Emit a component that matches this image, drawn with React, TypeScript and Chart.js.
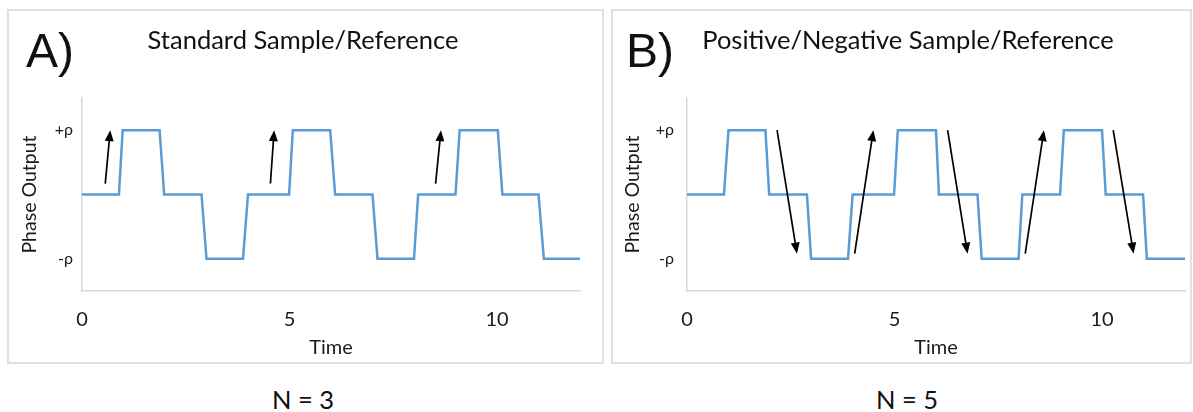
import React, { useEffect, useRef } from "react";
import { Chart, registerables } from "chart.js";

Chart.register(...registerables);

// ---- data ----
const timeA = [0, 0.89, 0.98, 1.87, 1.98, 2.88, 3.0, 3.88, 4.0, 4.99, 5.08, 5.98, 6.1, 7.0, 7.12, 8.0, 8.1, 9.0, 9.1, 10.02, 10.13, 11.0, 11.13, 12];
const valueA = [0, 0, 1, 1, 0, 0, -1, -1, 0, 0, 1, 1, 0, 0, -1, -1, 0, 0, 1, 1, 0, 0, -1, -1];
const timeB = [0, 0.89, 1.0, 1.89, 1.98, 2.89, 2.99, 3.88, 3.99, 4.99, 5.08, 6.0, 6.07, 7.0, 7.1, 7.99, 8.08, 8.99, 9.08, 10.0, 10.09, 10.99, 11.08, 12];
const valueB = [0, 0, 1, 1, 0, 0, -1, -1, 0, 0, 1, 1, 0, 0, -1, -1, 0, 0, 1, 1, 0, 0, -1, -1];
const xTickValues = [0, 5, 10];
const yTickValues = [1, -1];
const yTickLabels = ["+ρ", "-ρ"];
// arrows: [startTime, startValue, endTime, endValue]
const arrowsA = [
  [0.56, 0.17, 0.68, 1.0],
  [4.54, 0.17, 4.63, 1.0],
  [8.52, 0.17, 8.65, 1.0],
];
const arrowsB = [
  [2.17, 1.0, 2.65, -0.92],
  [4.04, -0.92, 4.49, 1.0],
  [6.28, 1.0, 6.76, -0.92],
  [8.15, -0.92, 8.6, 1.0],
  [10.27, 1.0, 10.76, -0.92],
];
const panelLetters = ["A)", "B)"];
const panelTitles = ["Standard Sample/Reference", "Positive/Negative Sample/Reference"];
const panelCounts = ["N = 3", "N = 5"];
const xAxisTitle = "Time";
const yAxisTitle = "Phase Output";

const FONT = "Lato, 'Noto Sans', sans-serif";
const TEXT = "#1a1a1a";

const arrowPlugin = {
  id: "arrows",
  afterDatasetsDraw(chart: any, _args: any, opts: any) {
    const { ctx, scales } = chart;
    const xs = scales.x;
    const ys = scales.y;
    ctx.save();
    ctx.strokeStyle = "#000";
    ctx.fillStyle = "#000";
    ctx.lineWidth = 1.7;
    for (const [t0, v0, t1, v1] of opts.list || []) {
      const x0 = xs.getPixelForValue(t0);
      const y0 = ys.getPixelForValue(v0);
      const x1 = xs.getPixelForValue(t1);
      const y1 = ys.getPixelForValue(v1);
      const ang = Math.atan2(y1 - y0, x1 - x0);
      const headLen = 11;
      const headW = 4.5;
      const c = Math.cos(ang);
      const s = Math.sin(ang);
      const bx = x1 - headLen * c;
      const by = y1 - headLen * s;
      ctx.beginPath();
      ctx.moveTo(x0, y0);
      ctx.lineTo(bx + 2 * c, by + 2 * s);
      ctx.stroke();
      ctx.beginPath();
      ctx.moveTo(x1, y1);
      ctx.lineTo(bx - headW * s, by + headW * c);
      ctx.lineTo(bx + headW * s, by - headW * c);
      ctx.closePath();
      ctx.fill();
    }
    ctx.restore();
  },
};

type PanelProps = {
  left: number;
  top: number;
  width: number;
  height: number;
  time: number[];
  value: number[];
  arrows: number[][];
  yAxisWidth: number;
  rightPad: number;
  yTickPad: number;
};

function PanelChart(p: PanelProps) {
  const ref = useRef<HTMLCanvasElement | null>(null);
  useEffect(() => {
    if (!ref.current) return;
    const chart = new Chart(ref.current, {
      type: "line",
      data: {
        datasets: [
          {
            data: p.time.map((t, i) => ({ x: t, y: p.value[i] })),
            borderColor: "#5B9BD5",
            borderWidth: 2.5,
            pointRadius: 0,
            tension: 0,
            fill: false,
          },
        ],
      },
      options: {
        responsive: false,
        maintainAspectRatio: false,
        animation: false,
        devicePixelRatio: 1,
        layout: { padding: { left: 0, top: 88, right: p.rightPad, bottom: 0 } },
        plugins: {
          legend: { display: false },
          tooltip: { enabled: false },
          arrows: { list: p.arrows },
        } as any,
        scales: {
          x: {
            type: "linear",
            min: 0,
            max: 12,
            afterBuildTicks: (s: any) => {
              s.ticks = xTickValues.map((v) => ({ value: v }));
            },
            afterFit: (s: any) => {
              s.height = 72;
            },
            grid: { display: false, drawTicks: false },
            border: { display: true, color: "#d9d9d9", width: 1.5 },
            ticks: {
              padding: 17,
              color: TEXT,
              font: { family: FONT, size: 20 },
              maxRotation: 0,
              autoSkip: false,
            },
            title: {
              display: true,
              text: xAxisTitle,
              color: TEXT,
              font: { family: FONT, size: 20 },
              padding: { top: 0, bottom: 3 },
            },
          },
          y: {
            type: "linear",
            min: -1.5,
            max: 1.5,
            afterBuildTicks: (s: any) => {
              s.ticks = [...yTickValues].sort((a, b) => a - b).map((v) => ({ value: v }));
            },
            afterFit: (s: any) => {
              s.width = p.yAxisWidth;
            },
            grid: { display: false, drawTicks: false },
            border: { display: true, color: "#d9d9d9", width: 1.5 },
            ticks: {
              padding: p.yTickPad,
              color: TEXT,
              font: { family: FONT, size: 16 },
              callback: (v: any) => {
                const i = yTickValues.indexOf(Number(v));
                return i >= 0 ? yTickLabels[i] : "";
              },
            },
            title: {
              display: true,
              text: yAxisTitle,
              color: TEXT,
              font: { family: FONT, size: 19.5 },
              padding: { top: 10, bottom: 0 },
            },
          },
        },
      } as any,
      plugins: [arrowPlugin as any],
    });
    return () => chart.destroy();
  }, []);
  return (
    <canvas
      ref={ref}
      width={p.width}
      height={p.height}
      style={{ position: "absolute", left: p.left, top: p.top, width: p.width, height: p.height }}
    />
  );
}

function Label(props: { text: string; cx: number; baseline: number; size: number; family?: string }) {
  const fam = props.family || FONT;
  const asc = props.family ? 0.905 : 0.987;
  return (
    <div
      style={{
        position: "absolute",
        left: props.cx - 300,
        width: 600,
        top: props.baseline - asc * props.size - (props.family ? (1.2 - 1.117) / 2 * props.size : 0),
        textAlign: "center",
        fontFamily: fam,
        fontSize: props.size,
        lineHeight: 1.2,
        color: "#111",
        whiteSpace: "nowrap",
      }}
    >
      {props.text}
    </div>
  );
}

export default function App() {
  return (
    <div
      style={{
        position: "fixed",
        left: 0,
        top: 0,
        width: 1193,
        height: 412,
        background: "#fff",
        overflow: "hidden",
      }}
    >
      <div style={{ position: "absolute", left: 7, top: 9, width: 597, height: 355, boxSizing: "border-box", border: "2px solid #e0e0e0" }} />
      <div style={{ position: "absolute", left: 611, top: 9, width: 581, height: 355, boxSizing: "border-box", border: "2px solid #e0e0e0" }} />

      <PanelChart left={8} top={10} width={595} height={353} time={timeA} value={valueA} arrows={arrowsA} yAxisWidth={74} rightPad={23} yTickPad={9} />
      <PanelChart left={611} top={10} width={579} height={353} time={timeB} value={valueB} arrows={arrowsB} yAxisWidth={76} rightPad={5} yTickPad={13} />

      <Label text={panelLetters[0]} cx={50} baseline={67} size={48} family="'Liberation Sans', Arial, sans-serif" />
      <Label text={panelLetters[1]} cx={650} baseline={67} size={48} family="'Liberation Sans', Arial, sans-serif" />
      <Label text={panelTitles[0]} cx={303} baseline={49.5} size={25.5} />
      <Label text={panelTitles[1]} cx={908} baseline={49.5} size={25.5} />
      <Label text={panelCounts[0]} cx={303} baseline={409.5} size={25.5} />
      <Label text={panelCounts[1]} cx={907} baseline={409.5} size={25.5} />
    </div>
  );
}
